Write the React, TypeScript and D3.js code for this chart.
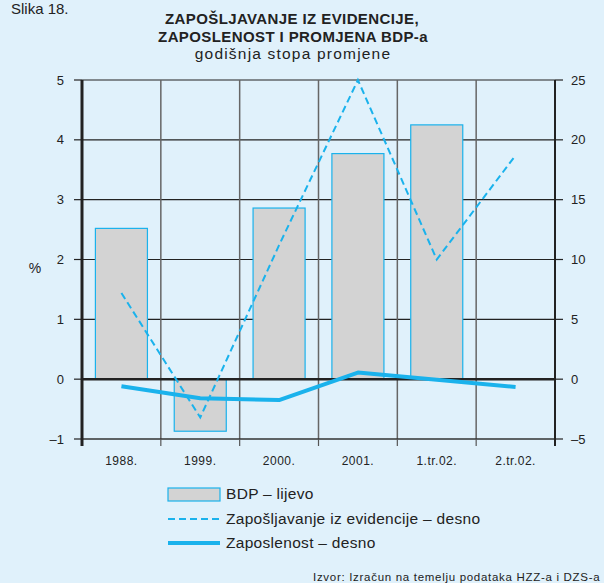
import React from "react";
import * as d3 from "d3";

const categories = ["1988.", "1999.", "2000.", "2001.", "1.tr.02.", "2.tr.02."];
const bdp: (number | null)[] = [2.52, -0.87, 2.86, 3.77, 4.25, null];
const zaposljavanje = [7.2, -3.2, 11.2, 25, 10.0, 18.7];
const zaposlenost = [-0.6, -1.6, -1.75, 0.55, -0.05, -0.65];
const leftTicks = [-1, 0, 1, 2, 3, 4, 5];
const rightTicks = [-5, 0, 5, 10, 15, 20, 25];

const W = 604;
const H = 583;
const M = { left: 82, right: 555, top: 80, bottom: 439 };
const BLUE = "#1ab2ec";
const FONT = "'Liberation Sans', Arial, Helvetica, sans-serif";

export default function App() {
  const x = d3.scaleBand<string>().domain(categories).range([M.left, M.right]).paddingInner(0).paddingOuter(0);
  const yL = d3.scaleLinear().domain([-1, 5]).range([M.bottom, M.top]);
  const yR = d3.scaleLinear().domain([-5, 25]).range([M.bottom, M.top]);
  const bw = x.bandwidth();
  const barW = bw * 0.66;
  const cx = (c: string) => (x(c) as number) + bw / 2;

  const line = d3
    .line<number>()
    .x((_, i) => cx(categories[i]))
    .y((d) => yR(d));

  const boundaries = categories.map((c) => x(c) as number).concat([M.right]);

  return (
    <svg
      width={W}
      height={H}
      style={{ position: "absolute", left: 0, top: 0, background: "#e0f1fb", fontFamily: FONT }}
    >
      <rect x={0} y={0} width={W} height={H} fill="#e0f1fb" />
      <text x={11} y={13.5} fontSize={15} fill="#222">Slika 18.</text>
      <text x={292} y={23.5} fontSize={15} fontWeight="bold" letterSpacing={0.4} textAnchor="middle" fill="#222">
        ZAPOŠLJAVANJE IZ EVIDENCIJE,
      </text>
      <text x={293} y={42} fontSize={15} fontWeight="bold" letterSpacing={0.4} textAnchor="middle" fill="#222">
        ZAPOSLENOST I PROMJENA BDP-a
      </text>
      <text x={293} y={59} fontSize={15.5} letterSpacing={1.2} textAnchor="middle" fill="#222">
        godišnja stopa promjene
      </text>

      {/* horizontal gridlines */}
      {leftTicks.filter((t) => t > 0).map((t) => (
        <line key={"g" + t} x1={M.left} x2={M.right} y1={yL(t)} y2={yL(t)} stroke="#222" strokeWidth={1.2} />
      ))}
      {/* vertical separators */}
      {boundaries.slice(1, -1).map((b, i) => (
        <line key={"v" + i} x1={b} x2={b} y1={M.top} y2={M.bottom} stroke="#666" strokeWidth={1.5} />
      ))}
      {/* bars */}
      {bdp.map((v, i) =>
        v === null ? null : (
          <rect
            key={"b" + i}
            x={cx(categories[i]) - barW / 2}
            y={yL(Math.max(0, v))}
            width={barW}
            height={Math.abs(yL(v) - yL(0))}
            fill="#d3d3d3"
            stroke={BLUE}
            strokeWidth={1.2}
          />
        )
      )}
      {/* zero line */}
      <line x1={M.left} x2={M.right} y1={yL(0)} y2={yL(0)} stroke="#222" strokeWidth={2.5} />
      {/* bottom axis */}
      <line x1={M.left} x2={M.right} y1={M.bottom} y2={M.bottom} stroke="#333" strokeWidth={1.5} />
      {boundaries.map((b, i) => (
        <line key={"bt" + i} x1={b} x2={b} y1={M.bottom} y2={M.bottom + 7} stroke="#555" strokeWidth={1.2} />
      ))}
      {/* lines */}
      <path d={line(zaposljavanje) || ""} fill="none" stroke={BLUE} strokeWidth={2} strokeDasharray="7,4" />
      <path d={line(zaposlenost) || ""} fill="none" stroke={BLUE} strokeWidth={4} strokeLinejoin="round" />
      {/* left axis */}
      <line x1={M.left} x2={M.left} y1={M.top} y2={M.bottom + 7} stroke="#222" strokeWidth={3} />
      {leftTicks.map((t) => (
        <g key={"l" + t}>
          <line x1={M.left - 8} x2={M.left} y1={yL(t)} y2={yL(t)} stroke="#222" strokeWidth={1.2} />
          <text x={64} y={yL(t) + 4.5} fontSize={13} textAnchor="end" fill="#222">
            {t < 0 ? "\u2013" + Math.abs(t) : t}
          </text>
        </g>
      ))}
      <text x={35} y={273} fontSize={14} textAnchor="middle" fill="#222">%</text>
      {/* right axis */}
      <line x1={M.right} x2={M.right} y1={M.top} y2={M.bottom + 7} stroke="#222" strokeWidth={2} />
      {rightTicks.map((t) => (
        <g key={"r" + t}>
          <line x1={M.right} x2={M.right + 8} y1={yR(t)} y2={yR(t)} stroke="#222" strokeWidth={1.2} />
          <text x={M.right + 16} y={yR(t) + 4.5} fontSize={13} textAnchor="start" fill="#222">
            {t < 0 ? "\u2013" + Math.abs(t) : t}
          </text>
        </g>
      ))}
      {/* category labels */}
      {categories.map((c) => (
        <text key={"c" + c} x={cx(c)} y={465} fontSize={12} letterSpacing={0.5} textAnchor="middle" fill="#222">
          {c}
        </text>
      ))}
      {/* legend */}
      <rect x={168} y={488} width={52} height={13} fill="#d3d3d3" stroke={BLUE} strokeWidth={1.2} />
      <text x={226} y={499} fontSize={15.5} letterSpacing={0.3} fill="#222">BDP – lijevo</text>
      <line x1={168} x2={220} y1={519} y2={519} stroke={BLUE} strokeWidth={2} strokeDasharray="7,4" />
      <text x={226} y={524} fontSize={15.5} letterSpacing={0.3} fill="#222">Zapošljavanje iz evidencije – desno</text>
      <line x1={168} x2={220} y1={543} y2={543} stroke={BLUE} strokeWidth={4} />
      <text x={226} y={548} fontSize={15.5} letterSpacing={0.3} fill="#222">Zaposlenost – desno</text>
      <text x={313} y={580.5} fontSize={11.5} letterSpacing={0.7} fill="#222">Izvor: Izračun na temelju podataka HZZ-a i DZS-a</text>
    </svg>
  );
}
